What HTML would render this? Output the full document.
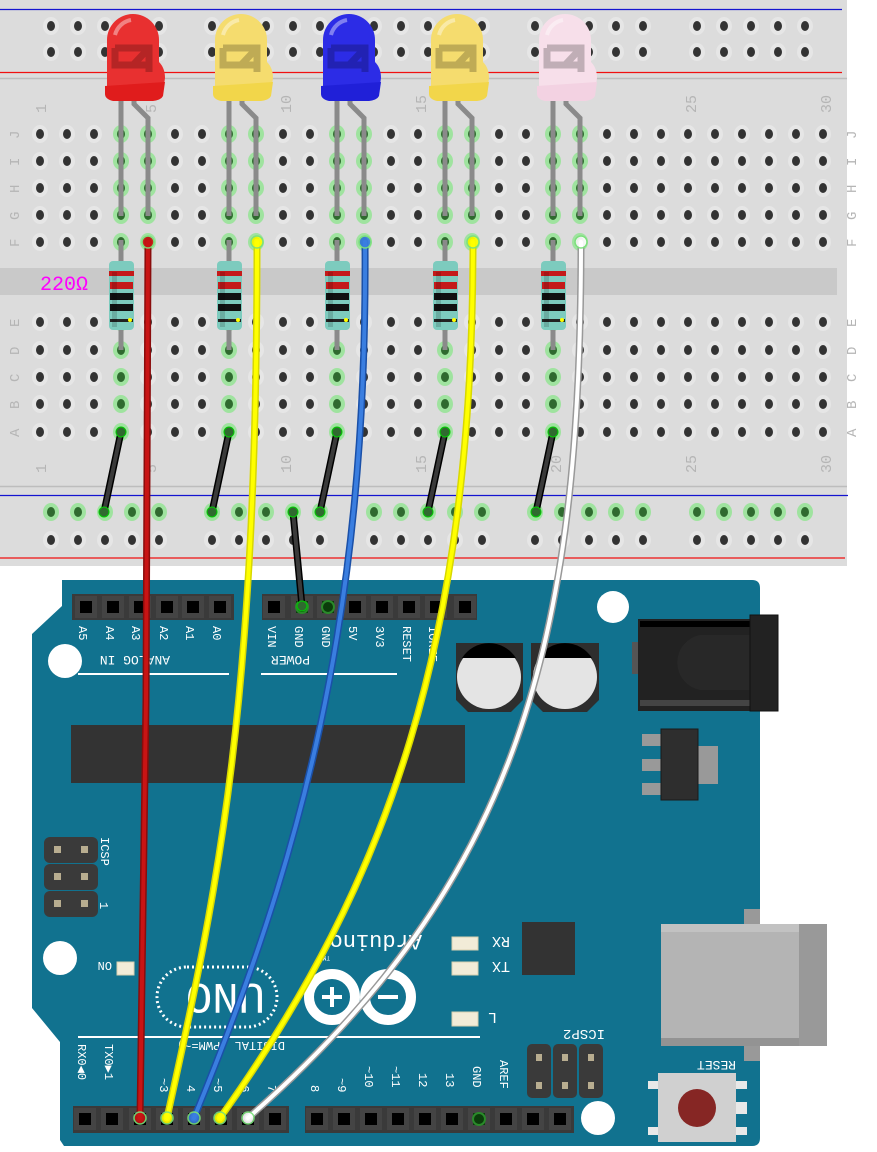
<!DOCTYPE html>
<html><head><meta charset="utf-8"><style>
html,body{margin:0;padding:0;background:#fff;width:877px;height:1152px;overflow:hidden}
svg{display:block}
text{font-family:"Liberation Mono","DejaVu Sans Mono",monospace}
</style></head><body>
<svg id="s" width="877" height="1152" viewBox="0 0 877 1152" xmlns="http://www.w3.org/2000/svg">
<rect x="0" y="0" width="847" height="566" fill="#dcdcdc"/>
<line x1="0" y1="9.5" x2="842" y2="9.5" stroke="#1414d0" stroke-width="1.3"/>
<line x1="0" y1="72.5" x2="842" y2="72.5" stroke="#f01010" stroke-width="1.3"/>
<line x1="0" y1="78.5" x2="847" y2="78.5" stroke="#bdbdbd" stroke-width="1.5"/>
<rect x="0" y="268" width="837" height="27" fill="#c9c9c9"/>
<line x1="0" y1="486.5" x2="847" y2="486.5" stroke="#bdbdbd" stroke-width="1.5"/>
<line x1="0" y1="495.5" x2="848" y2="495.5" stroke="#1414d0" stroke-width="1.3"/>
<line x1="0" y1="558" x2="845" y2="558" stroke="#f01010" stroke-width="1.3"/>
<g id="holes"></g>
<g fill="#b5b5b5" font-size="15" font-family="Liberation Sans,sans-serif">
<text transform="translate(46,113) rotate(-90)">1</text>
<text transform="translate(156,113) rotate(-90)">5</text>
<text transform="translate(291,113) rotate(-90)">10</text>
<text transform="translate(426,113) rotate(-90)">15</text>
<text transform="translate(696,113) rotate(-90)">25</text>
<text transform="translate(831,113) rotate(-90)">30</text>
<text transform="translate(46,473) rotate(-90)">1</text>
<text transform="translate(156,473) rotate(-90)">5</text>
<text transform="translate(291,473) rotate(-90)">10</text>
<text transform="translate(426,473) rotate(-90)">15</text>
<text transform="translate(561,473) rotate(-90)">20</text>
<text transform="translate(696,473) rotate(-90)">25</text>
<text transform="translate(831,473) rotate(-90)">30</text>
</g>
<g id="letters" fill="#b5b5b5" font-size="14" font-family="Liberation Sans,sans-serif"></g>

<path d="M62,580 L752,580 Q760,580 760,588 L760,1138 Q760,1146 752,1146 L64,1146 L60,1140 L60,1042 L32,1008 L32,634 L62,606 Z" fill="#11728f"/>
<rect x="72" y="594" width="162" height="26" fill="#3a3a3a"/>
<rect x="262" y="594" width="215" height="26" fill="#3a3a3a"/>
<g id="toppins"></g>
<g fill="#fff" font-size="12">
<text transform="translate(79,626) rotate(90)">A5</text>
<text transform="translate(106,626) rotate(90)">A4</text>
<text transform="translate(132,626) rotate(90)">A3</text>
<text transform="translate(160,626) rotate(90)">A2</text>
<text transform="translate(186,626) rotate(90)">A1</text>
<text transform="translate(213,626) rotate(90)">A0</text>
<text transform="translate(268,626) rotate(90)">VIN</text>
<text transform="translate(295,626) rotate(90)">GND</text>
<text transform="translate(322,626) rotate(90)">GND</text>
<text transform="translate(349,626) rotate(90)">5V</text>
<text transform="translate(376,626) rotate(90)">3V3</text>
<text transform="translate(403,626) rotate(90)">RESET</text>
<text transform="translate(429,626) rotate(90)">IOREF</text>
<text transform="translate(170,656) rotate(180)" font-size="13">ANALOG IN</text>
<text transform="translate(310,656) rotate(180)" font-size="13">POWER</text>
<text transform="translate(101,837) rotate(90)">ICSP</text>
<text transform="translate(100,902) rotate(90)">1</text>
<text transform="translate(112,962) rotate(180)">ON</text>
<text transform="translate(510,937) rotate(180)" font-size="15">RX</text>
<text transform="translate(510,962) rotate(180)" font-size="15">TX</text>
<text transform="translate(497,1013) rotate(180)" font-size="15">L</text>
<text transform="translate(605,1030) rotate(180)" font-size="14">ICSP2</text>
<text transform="translate(736,1061) rotate(180)" font-size="13">RESET</text>
<text transform="translate(422,935) rotate(180)" font-size="22">Arduino</text>
<text transform="translate(330,956) rotate(180)" font-size="6">TM</text>
<text transform="translate(78,1044) rotate(90)">RX0◀0</text>
<text transform="translate(105,1044) rotate(90)">TX0▶1</text>
<text transform="translate(285,1042) rotate(180)">DIGITAL (PWM=~)</text>
<text transform="translate(160,1078) rotate(90)">~3</text>
<text transform="translate(187,1085) rotate(90)">4</text>
<text transform="translate(214,1078) rotate(90)">~5</text>
<text transform="translate(241,1078) rotate(90)">~6</text>
<text transform="translate(268,1085) rotate(90)">7</text>
<text transform="translate(311,1085) rotate(90)">8</text>
<text transform="translate(338,1078) rotate(90)">~9</text>
<text transform="translate(365,1066) rotate(90)">~10</text>
<text transform="translate(392,1066) rotate(90)">~11</text>
<text transform="translate(419,1073) rotate(90)">12</text>
<text transform="translate(446,1073) rotate(90)">13</text>
<text transform="translate(473,1066) rotate(90)">GND</text>
<text transform="translate(500,1060) rotate(90)">AREF</text>
</g>
<line x1="78" y1="674" x2="229" y2="674" stroke="#fff" stroke-width="2"/>
<line x1="261" y1="674" x2="397" y2="674" stroke="#fff" stroke-width="2"/>
<line x1="78" y1="1037" x2="480" y2="1037" stroke="#fff" stroke-width="2"/>
<circle cx="613" cy="607" r="16" fill="#fff"/>
<circle cx="65" cy="661" r="17" fill="#fff"/>
<circle cx="60" cy="958" r="17" fill="#fff"/>
<circle cx="598" cy="1118" r="17" fill="#fff"/>
<rect x="71" y="725" width="394" height="58" fill="#333"/>
<g fill="#3a3a3a"><rect x="44" y="837" width="54" height="26" rx="6"/><rect x="44" y="864" width="54" height="26" rx="6"/><rect x="44" y="891" width="54" height="26" rx="6"/></g>
<g fill="#b8ad90"><rect x="54" y="846" width="7" height="7"/><rect x="81" y="846" width="7" height="7"/><rect x="54" y="873" width="7" height="7"/><rect x="81" y="873" width="7" height="7"/><rect x="54" y="900" width="7" height="7"/><rect x="81" y="900" width="7" height="7"/></g>
<g>
<path d="M456,643 L523,643 L523,700 L511,712 L468,712 L456,700 Z" fill="#2e2e2e"/>
<circle cx="489" cy="677" r="32" fill="#e4e4e4"/>
<path d="M462,658 A32,32 0 0 1 516,658 Z" fill="#000"/>
<path d="M531,643 L599,643 L599,700 L587,712 L543,712 L531,700 Z" fill="#2e2e2e"/>
<circle cx="565" cy="677" r="32" fill="#e4e4e4"/>
<path d="M538,658 A32,32 0 0 1 592,658 Z" fill="#000"/>
</g>
<rect x="638" y="619" width="128" height="92" fill="#222"/>
<rect x="640" y="621" width="120" height="6" fill="#000"/>
<rect x="640" y="700" width="120" height="6" fill="#444"/>
<path d="M700,635 L766,635 L766,690 L700,690 A28,28 0 0 1 700,635 Z" fill="#282828"/>
<rect x="750" y="615" width="28" height="96" fill="#222" stroke="#111"/>
<rect x="632" y="642" width="6" height="32" fill="#555"/>
<rect x="642" y="734" width="20" height="12" fill="#999"/><rect x="642" y="759" width="20" height="12" fill="#999"/><rect x="642" y="783" width="20" height="12" fill="#999"/>
<rect x="697" y="746" width="21" height="38" fill="#999"/>
<rect x="661" y="729" width="37" height="71" fill="#2e2e2e" stroke="#1a1a1a"/>
<rect x="522" y="922" width="53" height="53" fill="#333"/>
<g fill="#f2ecd8" stroke="#d8d0b0"><rect x="117" y="962" width="17" height="13"/><rect x="452" y="937" width="26" height="13"/><rect x="452" y="962" width="26" height="13"/><rect x="452" y="1012" width="26" height="14"/></g>
<rect x="157" y="967" width="120" height="60" rx="30" fill="none" stroke="#fff" stroke-width="3" stroke-dasharray="2 3"/>
<text transform="translate(265,976) rotate(180)" fill="#fff" font-family="Liberation Sans,sans-serif" font-size="44" dominant-baseline="text-before-edge" dy="-44">UNO</text>
<g fill="none" stroke="#fff" stroke-width="10"><circle cx="332" cy="997" r="23"/><circle cx="388" cy="997" r="23"/></g>
<g stroke="#fff" stroke-width="4"><line x1="322" y1="997" x2="342" y2="997"/><line x1="332" y1="987" x2="332" y2="1007"/><line x1="378" y1="997" x2="398" y2="997"/></g>
<rect x="744" y="909" width="16" height="152" fill="#999"/>
<rect x="661" y="924" width="166" height="122" fill="#b4b4b4"/>
<rect x="661" y="924" width="166" height="8" fill="#c2c2c2"/>
<rect x="661" y="1038" width="166" height="8" fill="#939393"/>
<rect x="799" y="924" width="28" height="122" fill="#999"/>
<g fill="#3a3a3a"><rect x="527" y="1044" width="24" height="54" rx="5"/><rect x="553" y="1044" width="24" height="54" rx="5"/><rect x="579" y="1044" width="24" height="54" rx="5"/></g>
<g fill="#b8ad90"><rect x="536" y="1054" width="6" height="7"/><rect x="562" y="1054" width="6" height="7"/><rect x="588" y="1054" width="6" height="7"/><rect x="536" y="1082" width="6" height="7"/><rect x="562" y="1082" width="6" height="7"/><rect x="588" y="1082" width="6" height="7"/></g>
<g fill="#e8e8e8"><rect x="648" y="1081" width="12" height="8"/><rect x="648" y="1127" width="12" height="8"/><rect x="735" y="1081" width="12" height="8"/><rect x="735" y="1102" width="12" height="12"/><rect x="735" y="1127" width="12" height="8"/></g>
<rect x="658" y="1073" width="78" height="69" fill="#d0d0d0"/>
<circle cx="697" cy="1108" r="19" fill="#862624"/>
<rect x="73" y="1106" width="216" height="27" fill="#3a3a3a"/>
<rect x="305" y="1106" width="269" height="27" fill="#3a3a3a"/>
<g id="botpins"></g>

<g id="legs" stroke="#8a8a8a" stroke-width="5" fill="none"></g>
<g id="res"></g>
<g id="leds"></g>
<text x="40" y="290" fill="#ff00ff" font-family="Liberation Sans,sans-serif" font-size="20">220Ω</text>
<g id="jump" stroke-linecap="round"></g>
<g id="wires" fill="none" stroke-linecap="round"></g>
</svg>
<script>
var NS="http://www.w3.org/2000/svg";
function el(p,t,a){var e=document.createElementNS(NS,t);for(var k in a)e.setAttribute(k,a[k]);document.getElementById(p).appendChild(e);return e;}
var cx=function(n){return 40+(n-1)*27;};
var rowsTop=[134,161,188,215,242], rowsBot=[322,350,377,404,432];
var ledCols=[4,8,12,16,20];
function hole(x,y,g){el('holes','ellipse',{cx:x,cy:y,rx:8,ry:9,fill:g?'#9fe39f':'#e6e6e6'});el('holes','ellipse',{cx:x,cy:y,rx:4,ry:5,fill:g?'#2f6a2f':'#333'});}
for(var c=1;c<=30;c++){
 rowsTop.forEach(function(y){hole(cx(c),y,ledCols.indexOf(c)>=0||ledCols.indexOf(c-1)>=0);});
 rowsBot.forEach(function(y){hole(cx(c),y,ledCols.indexOf(c)>=0);});
}
[51,212,374,535,697].forEach(function(s){for(var i=0;i<5;i++){var x=s+i*27;hole(x,26,false);hole(x,52,false);hole(x,512,true);hole(x,540,false);}});
var L=['J','I','H','G','F'],L2=['E','D','C','B','A'];
rowsTop.forEach(function(y,i){var t=el('letters','text',{transform:'translate(19,'+(y+5)+') rotate(-90)'});t.textContent=L[i];var t2=el('letters','text',{transform:'translate(856,'+(y+5)+') rotate(-90)'});t2.textContent=L[i];});
rowsBot.forEach(function(y,i){var t=el('letters','text',{transform:'translate(19,'+(y+5)+') rotate(-90)'});t.textContent=L2[i];var t2=el('letters','text',{transform:'translate(856,'+(y+5)+') rotate(-90)'});t2.textContent=L2[i];});
function pin(g,x,y,gr){el(g,'rect',{x:x-11,y:y-11,width:22,height:22,fill:'#444'});el(g,'rect',{x:x-6,y:y-6,width:12,height:12,fill:gr?'#0c3a0c':'#000'});if(gr)el(g,'circle',{cx:x,cy:y,r:6,fill:'#0b3d0b',stroke:'#2a8a2a','stroke-width':2});}
[86,113,140,167,193,220].forEach(function(x){pin('toppins',x,607);});
[274,302,328,355,382,409,436,465].forEach(function(x,i){pin('toppins',x,607,i==1||i==2);});
[85,112,140,167,194,221,248,275].forEach(function(x){pin('botpins',x,1119);});
[317,344,371,398,425,452,479,506,533,560].forEach(function(x,i){pin('botpins',x,1119,i==6);});
ledCols.forEach(function(c){var a=cx(c),b=cx(c+1);
 el('legs','path',{d:'M'+a+',95 L'+a+',216'});
 el('legs','path',{d:'M'+(b-14)+',95 L'+(b-14)+',104 L'+b+',118 L'+b+',216'});
 el('legs','line',{x1:a,y1:240,x2:a,y2:262});el('legs','line',{x1:a,y1:328,x2:a,y2:350});
 var x=a-12;el('res','rect',{x:x,y:261,width:25,height:69,rx:4,fill:'#7dcbbe'});
 el('res','rect',{x:x,y:271,width:25,height:5,fill:'#c41a1a'});
 el('res','rect',{x:x+1,y:282,width:23,height:7,fill:'#c41a1a'});
 el('res','rect',{x:x+1,y:293,width:23,height:7,fill:'#111'});
 el('res','rect',{x:x+1,y:304,width:23,height:7,fill:'#111'});
 el('res','rect',{x:x+1,y:319,width:23,height:3,fill:'#222'});
 el('res','circle',{cx:x+21,cy:320,r:2,fill:'#ff0'});
 el('res','rect',{x:x+3,y:272,width:5,height:55,fill:'#000',opacity:0.15});
});
var cols=[['#e83030','#e01c1c'],['#f5dc6e','#f2d64a'],['#2c2ce6','#2020d8'],['#f5dc6e','#f2d64a'],['#f7dfea','#f3d2e2']];
ledCols.forEach(function(c,i){var x=cx(c)-16;
 el('leds','path',{d:'M'+(x+2)+',92 L'+(x+2)+',40 A26,26 0 0 1 '+(x+54)+',40 L'+(x+54)+',62 Q'+(x+60)+',68 '+(x+60)+',78 L'+(x+58)+',92 Z',fill:cols[i][0]});
 el('leds','path',{d:'M'+x+',86 L'+(x+60)+',82 L'+(x+58)+',96 Q'+(x+56)+',100 '+(x+48)+',101 L'+(x+8)+',101 Q'+x+',99 '+x+',94 Z',fill:cols[i][1]});
 el('leds','path',{d:'M'+(x+10)+',48 L'+(x+44)+',48 L'+(x+44)+',72 M'+(x+10)+',48 L'+(x+10)+',65 L'+(x+44)+',65 M'+(x+28)+',65 L'+(x+44)+',48',stroke:'rgba(0,0,0,0.22)','stroke-width':7,fill:'none'});
 el('leds','path',{d:'M'+(x+10)+',35 A20,20 0 0 1 '+(x+26)+',20',stroke:'rgba(255,255,255,0.4)','stroke-width':4,fill:'none'});
});
function bw(x1,y1,x2,y2){el('jump','line',{x1:x1,y1:y1,x2:x2,y2:y2,stroke:'#000','stroke-width':7});el('jump','line',{x1:x1,y1:y1,x2:x2,y2:y2,stroke:'#3a3a3a','stroke-width':4});el('jump','circle',{cx:x1,cy:y1,r:5,fill:'#2f6a2f',stroke:'#0c0','stroke-width':1});el('jump','circle',{cx:x2,cy:y2,r:5,fill:'#2f6a2f',stroke:'#0c0','stroke-width':1});}
bw(121,432,104,512);bw(229,432,212,512);bw(337,432,320,512);bw(445,432,428,512);bw(553,432,536,512);
bw(293,512,302,606);
function w(d,outer,inner,x1,x2){el('wires','path',{d:d,stroke:outer,'stroke-width':7});el('wires','path',{d:d,stroke:inner,'stroke-width':4});el('wires','circle',{cx:x1,cy:242,r:6,fill:inner,stroke:'#7ae07a','stroke-width':1.5,opacity:0.9});el('wires','circle',{cx:x2,cy:1118,r:6,fill:inner,stroke:'#7ae07a','stroke-width':1.5,opacity:0.9});}
w('M148,242 L146,700 L140,1118','#8a0c0c','#c81414',148,140);
w('M257,242 C257,700 220,880 167,1118','#d8d800','#ffff00',257,167);
w('M365,242 C368,620 300,860 194,1118','#1a50a8','#3a7ee0',365,194);
w('M473,242 C473,640 390,880 220,1118','#d8d800','#ffff00',473,220);
w('M581,242 C581,640 520,880 248,1118','#999','#fff',581,248);
</script>
</body></html>
